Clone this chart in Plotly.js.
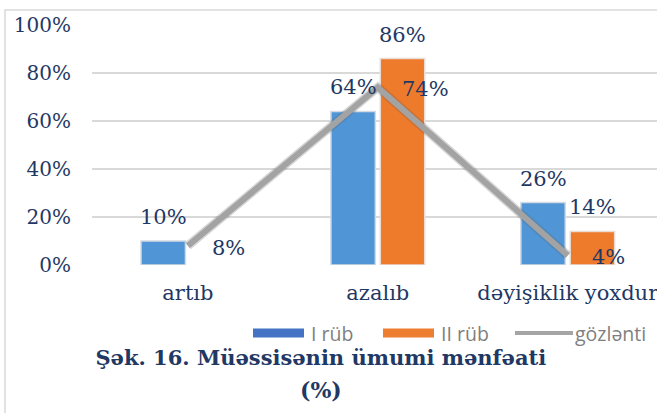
<!DOCTYPE html>
<html>
<head>
<meta charset="utf-8">
<script src="https://cdn.plot.ly/plotly-3.0.1.min.js"></script>
<style>html,body{margin:0;padding:0;background:#fff;}#chart{width:657px;height:413px;}</style>
</head>
<body>
<div id="chart"></div>
<script>
const categories = ["artıb", "azalıb", "dəyişiklik yoxdur"];
const seriesNames = ["I rüb", "II rüb", "gözlənti"];
const q1Values = [10, 64, 26];
const q2Values = [0, 86, 14];
const expectedValues = [8, 74, 4];
const yTickValues = [0, 20, 40, 60, 80, 100];
const yTickLabels = ["0%", "20%", "40%", "60%", "80%", "100%"];
const titleLine1 = "Şək. 16. Müəssisənin ümumi mənfəati";
const titleLine2 = "(%)";

const navy = "#1F3864";
const serif = "DejaVu Serif, serif";
const pct = v => v + "%";
const legendColors = ["#4472C4", "#ED7D31", "#A5A5A5"];
const edgeWidths = vals => vals.map(v => (v > 0 ? 1.5 : 0));

const traces = [
  {
    type: "bar", x: categories, y: q1Values, name: seriesNames[0], showlegend: false,
    marker: {color: "#5096D6", line: {color: "#D3DAE3", width: edgeWidths(q1Values)}}
  },
  {
    type: "bar", x: categories, y: q2Values, name: seriesNames[1], showlegend: false,
    marker: {color: "#EE7A2C", line: {color: "#E8DCD3", width: edgeWidths(q2Values)}}
  },
  {
    type: "scatter", mode: "lines", x: categories, y: expectedValues, name: seriesNames[2] + " shadow",
    showlegend: false, line: {color: "rgba(90,90,90,0.25)", width: 9}, hoverinfo: "skip"
  },
  {
    type: "scatter", mode: "lines", x: categories, y: expectedValues, name: seriesNames[2],
    showlegend: false, line: {color: "#A3A3A3", width: 6}, hoverinfo: "skip"
  }
];

const labelFont = {family: serif, size: 21, color: navy};
const annotations = [];
[q1Values, q2Values].forEach((vals, s) => {
  vals.forEach((v, i) => {
    if (v <= 0) return;
    annotations.push({
      x: categories[i], y: v, xref: "x", yref: "y", text: pct(v), showarrow: false,
      xanchor: "center", yanchor: "middle", xshift: s === 0 ? -24.5 : 24.5, yshift: 24,
      font: labelFont
    });
  });
});
expectedValues.forEach((v, i) => {
  annotations.push({
    x: categories[i], y: v, xref: "x", yref: "y", text: pct(v),
    showarrow: false, xanchor: "left", yanchor: "middle", xshift: 22, yshift: -2,
    font: labelFont
  });
});
annotations.push({
  xref: "paper", yref: "paper", x: 0.405, y: -0.52, text: "<b>" + titleLine2 + "</b>",
  showarrow: false, xanchor: "center", yanchor: "middle",
  font: {family: serif, size: 22, color: navy}
});

// custom legend (wide swatches like the reference)
const legendSwatchX = [253, 383, 515];
const legendSwatchW = [51, 51, 58];
const legendY = 333;
const toPx = px => (px - 92) / 565;
const toPy = py => (265 - py) / 240;
const shapes = [{
  type: "rect", xref: "paper", yref: "paper",
  x0: toPx(5), x1: 1.05, y0: -1, y1: toPy(10),
  line: {color: "#D9D9D9", width: 1.5}, fillcolor: "rgba(0,0,0,0)", layer: "below"
}];
seriesNames.forEach((n, k) => {
  const x0 = legendSwatchX[k], x1 = x0 + legendSwatchW[k];
  if (k < 2) {
    shapes.push({type: "rect", xref: "paper", yref: "paper",
      x0: toPx(x0), x1: toPx(x1), y0: toPy(legendY + 4.5), y1: toPy(legendY - 4.5),
      line: {width: 0}, fillcolor: legendColors[k]});
  } else {
    shapes.push({type: "line", xref: "paper", yref: "paper",
      x0: toPx(x0), x1: toPx(x1), y0: toPy(legendY), y1: toPy(legendY),
      line: {color: legendColors[k], width: 4}});
  }
  annotations.push({
    xref: "paper", yref: "paper", x: toPx(x1 + (k < 2 ? 5 : 0)), y: toPy(legendY), text: n,
    showarrow: false, xanchor: "left", yanchor: "middle",
    font: {family: "Open Sans, sans-serif", size: 19.5, color: "#7F7F7F"}
  });
});

const layout = {
  width: 657, height: 413,
  margin: {l: 92, r: 0, t: 25, b: 148},
  paper_bgcolor: "#fff", plot_bgcolor: "#fff",
  barmode: "group", bargap: 0.48, bargroupgap: 0.1,
  showlegend: false,
  title: {
    text: "<b>" + titleLine1 + "</b>", xref: "paper", x: 0.405, xanchor: "center",
    yref: "container", y: 1 - 358 / 413, yanchor: "middle",
    font: {family: serif, size: 21, color: navy}
  },
  xaxis: {
    type: "category", range: [-0.505, 2.47], showgrid: false, zeroline: false, showline: false,
    ticks: "", ticklabelstandoff: 13, tickfont: {family: serif, size: 21, color: navy}
  },
  yaxis: {
    range: [0, 100], tickvals: yTickValues, ticktext: yTickLabels,
    showgrid: true, gridcolor: "#D9D9D9", gridwidth: 1.6, zeroline: false, showline: false,
    ticks: "", ticklabelstandoff: 20, tickfont: {family: serif, size: 20, color: navy}
  },
  annotations: annotations,
  shapes: shapes,
  font: {family: serif}
};

Plotly.newPlot("chart", traces, layout, {displayModeBar: false, staticPlot: true});
</script>
</body>
</html>
